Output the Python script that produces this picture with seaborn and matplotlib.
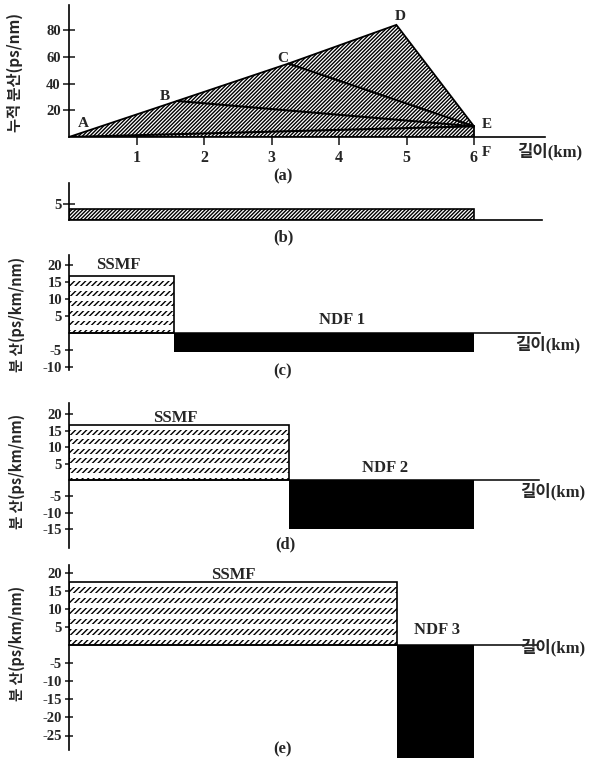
import matplotlib
matplotlib.use("Agg")
import matplotlib.pyplot as plt
import seaborn as sns

# (a) accumulated dispersion: break points A..E (km, ps/nm), F = (6, 0)
point_names = ["A", "B", "C", "D", "E"]
point_km = [0.0, 1.6, 3.25, 4.85, 6.0]
point_acc = [0.0, 27.0, 55.0, 84.0, 8.0]
acc_xticks = [1, 2, 3, 4, 5, 6]
acc_yticks = [20, 40, 60, 80]

# (b) single fibre over the whole span
b_len = 6.0
b_disp = 3.4

# (c)-(e) SSMF followed by NDF (km, ps/km/nm)
total_len = 6.0
ssmf_len = [1.56, 3.26, 4.86]
ssmf_disp = [16.7, 16.7, 17.4]
ndf_names = ["NDF 1", "NDF 2", "NDF 3"]
ndf_disp = [-5.6, -14.8, -67.0]
disp_yticks = [[20, 15, 10, 5, -5, -10],
               [20, 15, 10, 5, -5, -10, -15],
               [20, 15, 10, 5, -5, -10, -15, -20, -25]]

sns.set_theme(style="white")
plt.rcParams['font.family'] = ['Liberation Serif', 'Noto Sans CJK KR']
plt.rcParams['font.weight'] = 'bold'
plt.rcParams['hatch.linewidth'] = 1.0
plt.rcParams['axes.linewidth'] = 1.2

W, H = 589, 758
X0, KM = 69, 67.5   # pixel of 0 km, pixels per km
HATCH = '/' * 9
STRIPE = '/' * 6
fig = plt.figure(figsize=(W / 100, H / 100), dpi=100)
fig.patch.set_facecolor('white')
KFONT = ['Noto Sans CJK KR', 'DejaVu Sans']


def panel(x_right, top, bottom, zero, ppu):
    ax = fig.add_axes([X0 / W, 1 - bottom / H, (x_right - X0) / W, (bottom - top) / H])
    ax.set_xlim(0, (x_right - X0) / KM)
    ax.set_ylim((zero - bottom) / ppu, (zero - top) / ppu)
    ax.set_facecolor('none')
    for s in ['top', 'right']:
        ax.spines[s].set_visible(False)
    for s in ['left', 'bottom']:
        ax.spines[s].set_color('black')
    return ax


def ftext(x, y, s, **kw):
    fig.text(x / W, 1 - y / H, s, ha=kw.pop('ha', 'center'), va=kw.pop('va', 'center'), **kw)


# ---- (a)
ax = panel(545, 5, 137, 137, 1.335)
ax.fill(point_km + [point_km[-1]], point_acc + [0], facecolor='white',
        edgecolor='black', hatch=HATCH, lw=1.3)
for i in range(3):
    sns.lineplot(x=[point_km[i], point_km[-1]], y=[point_acc[i], point_acc[-1]],
                 color='black', lw=1.5, ax=ax)
offs = [(10, 10), (-9, 3), (-4, 4), (3, 6), (9, 1)]
for n, x, y, o in zip(point_names, point_km, point_acc, offs):
    ax.annotate(n, (x, y), xytext=o, textcoords='offset points', fontsize=11,
                ha='center', va='center', annotation_clip=False)
ax.annotate("F", (point_km[-1], 0), xytext=(9, -11), textcoords='offset points',
            fontsize=11, ha='center', va='center', annotation_clip=False)
ax.set_xticks(acc_xticks)
ax.set_xticklabels([str(t) for t in acc_xticks], fontsize=11.5)
ax.set_yticks(acc_yticks)
ax.set_yticklabels([str(t) for t in acc_yticks], fontsize=10.5)
ax.tick_params(axis='x', direction='out', length=6, width=1.2, pad=3, bottom=True)
ax.tick_params(axis='y', direction='inout', length=9, width=1.2, pad=1.5, left=True)
ftext(15, 72, "누적 분산(ps/nm)", rotation=90, fontsize=11, family=KFONT)
ftext(517, 152, "길이(km)", ha='left', fontsize=12)
ftext(283, 176, "(a)", fontsize=12)

# ---- (b)
ax = panel(542, 183, 220, 220, 3.2)
ax.bar(0, b_disp, width=b_len, align='edge', facecolor='white', edgecolor='black',
       hatch=HATCH, lw=1.2)
ax.set_xticks([])
ax.set_yticks([5])
ax.set_yticklabels(["5"], fontsize=10.5)
ax.tick_params(axis='y', direction='inout', length=8, width=1.2, pad=1.5, left=True)
ftext(283, 237, "(b)", fontsize=12)

# ---- (c)-(e)
layout = [(540, 255, 370, 333, 3.41), (539, 403, 548, 480, 3.29), (538, 565, 758, 645, 3.62)]
caps = [("(c)", 283, 371), ("(d)", 285, 544), ("(e)", 282, 749)]
ssmf_pos = [(118, 265), (175, 418), (233, 575)]
ndf_pos = [(342, 320), (385, 468), (437, 630)]
len_pos = [(515, 345), (520, 492), (520, 648)]
ylab_y = [314, 471, 643]
period, gap = 2.9, 1.45

for k in range(3):
    ax = panel(*layout[k])
    L, h = ssmf_len[k], ssmf_disp[k]
    ax.fill_between([0, L], 0, h, facecolor='white', edgecolor='black', hatch=STRIPE, lw=0)
    top = h
    while top > 0:
        ax.fill_between([0, L], max(top - gap, 0), top, color='white', lw=0)
        top -= period
    ax.bar(0, h, width=L, align='edge', fill=False, edgecolor='black', lw=1.2, zorder=3)
    ax.bar(L, ndf_disp[k], width=total_len - L, align='edge', color='black', lw=0)
    ax.spines['bottom'].set_position(('data', 0))
    ax.spines['bottom'].set_linewidth(1.1)
    if k == 2:
        ax.spines['left'].set_bounds((layout[k][3] - 750) / layout[k][4], ax.get_ylim()[1])
    ax.set_xticks([])
    ax.set_yticks(disp_yticks[k])
    ax.set_yticklabels([str(t) for t in disp_yticks[k]], fontsize=10.5)
    ax.tick_params(axis='y', direction='inout', length=6, width=1.2, pad=2, left=True)
    ftext(*ssmf_pos[k], "SSMF", fontsize=12)
    ftext(*ndf_pos[k], ndf_names[k], fontsize=12)
    ftext(*len_pos[k], "길이(km)", ha='left', fontsize=12)
    ftext(17, ylab_y[k], "분 산(ps/km/nm)", rotation=90, fontsize=10.5, family=KFONT)
    ftext(caps[k][1], caps[k][2], caps[k][0], fontsize=12)

fig.savefig("out.png", dpi=100, facecolor='white')
